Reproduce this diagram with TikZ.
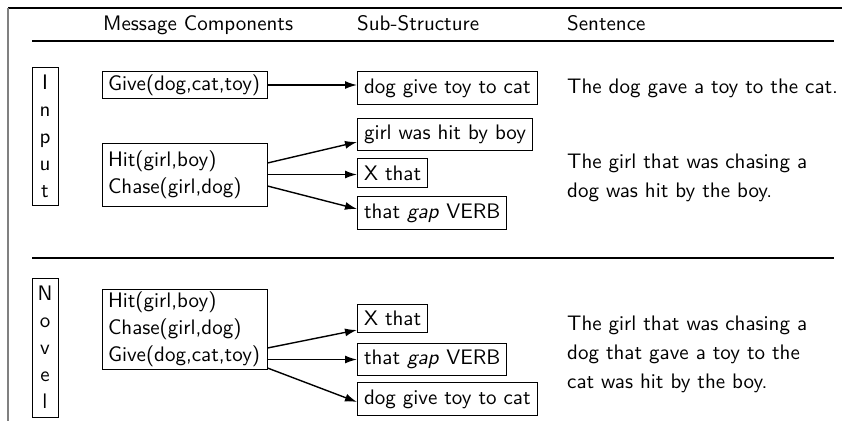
\documentclass[tikz,border=0pt]{standalone}
\usepackage{fontspec}
\setsansfont{lmsans10-regular.otf}[ItalicFont=lmsans10-oblique.otf, BoldFont=lmsans10-bold.otf]
\usetikzlibrary{arrows.meta,calc}
\begin{document}
\begin{tikzpicture}[x=1pt,y=-1pt,
  every node/.style={font=\sffamily\fontsize{21}{27}\selectfont},
  txt/.style={inner sep=0pt, anchor=west, align=left},
  msg/.style={draw, line width=1pt, text width=153pt, inner xsep=6pt, inner ysep=0pt, align=left},
  sub/.style={draw, line width=1pt, inner xsep=6.5pt, inner ysep=6.7pt, anchor=west},
  side/.style={draw, line width=1pt, minimum width=26pt, inner xsep=0pt, inner ysep=0pt, align=center},
  conn/.style={line width=1.4pt, -{Latex[length=12pt,width=8pt]}},
  rulel/.style={line width=1.3pt}
]
\useasboundingbox (0,0) rectangle (842,421);
% frame
\draw[line width=1.5pt] (8,8) -- (842,8);
\draw[line width=1.5pt, gray] (8,8) -- (8,421);
% headers
\node[txt, anchor=base west] (h1) at (103,30) {Message Components};
\node[txt, anchor=base west] (h2) at (357,30) {Sub-Structure};
\node[txt, anchor=base west] (h3) at (567,30) {Sentence};
\draw[rulel] (32,41) -- (834,41);
\draw[rulel] (32,258) -- (834,258);
% side labels
\node[side, minimum height=138pt] (inp) at (45,136) {I\\n\\p\\u\\t};
\node[side, minimum height=139pt] (nov) at (45,347.5) {N\\o\\v\\e\\l};
% message boxes
\node[msg, minimum height=27pt] (give1) at (184.5,85) {Give(dog,cat,toy)};
\node[msg, minimum height=63pt] (hc1) at (184.5,174.5) {Hit(girl,boy)\\Chase(girl,dog)};
\node[msg, minimum height=80pt] (hcg) at (184.5,329) {Hit(girl,boy)\\Chase(girl,dog)\\Give(dog,cat,toy)};
% sub-structure boxes
\node[sub] (dog1) at (357,88) {dog give toy to cat};
\node[sub] (girl1) at (357,134.5) {girl was hit by boy};
\node[sub] (xt1) at (357,173) {X that};
\node[sub] (gap1) at (357,213) {that \textit{gap} VERB};
\node[sub] (xt2) at (357,318.5) {X that};
\node[sub] (gap2) at (357,359.5) {that \textit{gap} VERB};
\node[sub] (dog2) at (357,399) {dog give toy to cat};
% sentences
\node[txt] (s1) at (567,88) {The dog gave a toy to the cat.};
\node[txt, font=\sffamily\fontsize{21}{29}\selectfont] (s2) at (567,177.5) {The girl that was chasing a\\dog was hit by the boy.};
\node[txt, font=\sffamily\fontsize{21}{29}\selectfont] (s3) at (567,354) {The girl that was chasing a\\dog that gave a toy to the\\cat was hit by the boy.};
% connector end points
\coordinate (a1) at ($(hc1.east)+(0,-11.5)$);
\coordinate (b1) at ($(girl1.west)+(0,7.5)$);
\coordinate (a3) at ($(hc1.east)+(0,11.5)$);
\coordinate (b3) at ($(gap1.west)+(0,-4)$);
\coordinate (c1) at ($(hcg.east)+(0,19)$);
\coordinate (d1) at ($(xt2.west)+(0,11.5)$);
\coordinate (c2) at ($(hcg.east)+(0,30.5)$);
\coordinate (c3) at ($(hcg.east)+(0,39)$);
\coordinate (d3) at ($(dog2.west)+(0,3)$);
% connectors
\draw[conn] (give1.east) -- (give1.east -| dog1.west);
\draw[conn] (a1) -- (b1);
\draw[conn] (hc1.east) -- (hc1.east -| xt1.west);
\draw[conn] (a3) -- (b3);
\draw[conn] (c1) -- (d1);
\draw[conn] (c2) -- (c2 -| gap2.west);
\draw[conn] (c3) -- (d3);
\end{tikzpicture}
\end{document}
